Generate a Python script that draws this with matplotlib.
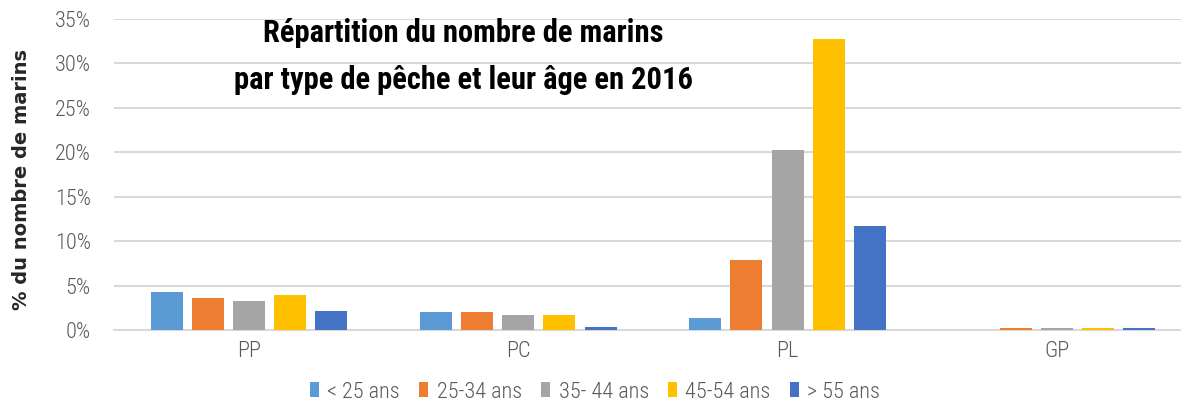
import matplotlib
matplotlib.use("Agg")
import matplotlib.pyplot as plt
import numpy as np

categories = ["PP", "PC", "PL", "GP"]
series_names = ["< 25 ans", "25-34 ans", "35- 44 ans", "45-54 ans", "> 55 ans"]
s_lt25 = [4.24, 1.99, 1.35, 0.0]
s_25_34 = [3.64, 1.99, 7.84, 0.19]
s_35_44 = [3.30, 1.69, 20.26, 0.19]
s_45_54 = [3.94, 1.69, 32.8, 0.19]
s_gt55 = [2.17, 0.37, 11.74, 0.19]
series = [s_lt25, s_25_34, s_35_44, s_45_54, s_gt55]
colors = ["#5B9BD5", "#ED7D31", "#A5A5A5", "#FFC000", "#4472C4"]
yticks = [0, 5, 10, 15, 20, 25, 30, 35]

plt.rcParams['font.family'] = ['Roboto Condensed', 'Open Sans Condensed', 'Lato', 'DejaVu Sans']

W, H = 1181, 415
fig = plt.figure(figsize=(W / 100, H / 100), dpi=100)
left = 114.3 / W
bottom = (H - 330) / H
height = (330 - 19) / H
cat_px = 269.3
right_lim = -0.5 + (W - 114.3) / cat_px
ax = fig.add_axes([left, bottom, 1 - left, height])

x = np.arange(len(categories))
pitch = 0.153
width = 0.119
for i, (vals, c, name) in enumerate(zip(series, colors, series_names)):
    ax.bar(x + (i - 2) * pitch, vals, width=width, color=c, label=name, zorder=3)

ax.set_xlim(-0.5, right_lim)
ax.set_ylim(0, 35)
ax.set_yticks(yticks)
ax.set_yticklabels([f"{v}%" for v in yticks])
ax.set_xticks(x)
ax.set_xticklabels(categories)
ax.grid(axis='y', color='#d9d9d9', linewidth=1.5, zorder=0)
for s in ['top', 'right', 'left']:
    ax.spines[s].set_visible(False)
ax.spines['bottom'].set_color('#d9d9d9')
ax.spines['bottom'].set_linewidth(1.5)
ax.tick_params(axis='both', length=0, colors='#595959', labelsize=16)
ax.tick_params(axis='y', pad=17)
ax.tick_params(axis='x', pad=8)
for lab in ax.get_xticklabels() + ax.get_yticklabels():
    lab.set_fontweight('light')

ax.set_ylabel("% du nombre de marins", fontsize=14, fontweight='bold', color='#262626',
              family=['DejaVu Sans'])
ax.yaxis.set_label_coords((31 - 114.3) / (W - 114.3), (330 - 180) / 311)

fig.text(463 / W, 1 - 33 / H, "Répartition du nombre de marins", ha='center', va='center',
         fontsize=22, fontweight='bold', color='black')
fig.text(463 / W, 1 - 80 / H, "par type de pêche et leur âge en 2016", ha='center', va='center',
         fontsize=22, fontweight='bold', color='black')

leg = fig.legend(loc='center', bbox_to_anchor=(595 / W, 1 - 392 / H), ncol=5, frameon=False,
                 prop={'size': 16, 'weight': 'light'}, handlelength=0.42, handleheight=0.65,
                 handletextpad=0.38, columnspacing=0.85, labelcolor='#595959')

fig.savefig("out.png", dpi=100)
